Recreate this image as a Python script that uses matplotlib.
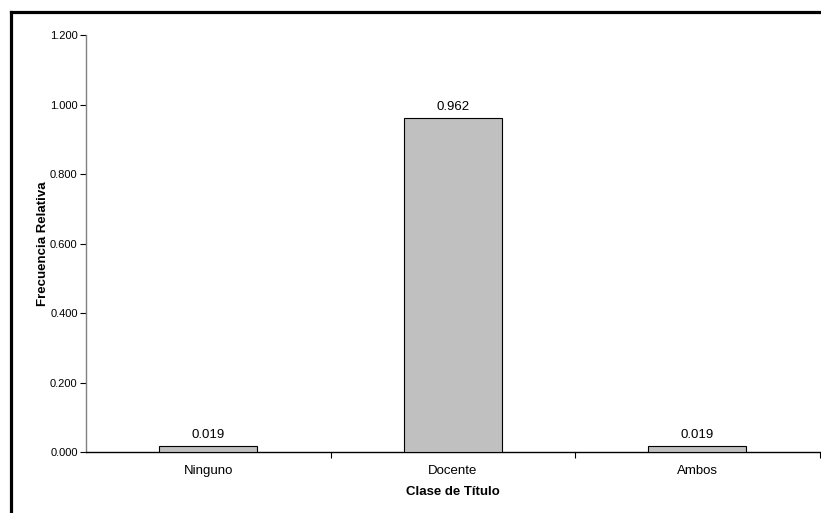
import matplotlib
matplotlib.use("Agg")
import matplotlib.pyplot as plt
from matplotlib.lines import Line2D

plt.rcParams['font.family'] = ['Liberation Sans', 'DejaVu Sans']

categories = ["Ninguno", "Docente", "Ambos"]
values = [0.019, 0.962, 0.019]
yticks = [0.0, 0.2, 0.4, 0.6, 0.8, 1.0, 1.2]

W, H = 821, 513
fig = plt.figure(figsize=(W / 100, H / 100), dpi=100)
ax = fig.add_axes([86 / W, 1 - 452.3 / H, (819.5 - 86) / W, (452.3 - 35) / H])

x = list(range(len(categories)))
ax.bar(x, values, width=0.4, color="#c0c0c0", edgecolor="black", linewidth=0.8, zorder=3)
for xi, v in zip(x, values):
    ax.annotate(f"{v:.3f}", (xi, v), xytext=(0, 3.5), textcoords="offset points",
                ha="center", va="bottom", fontsize=9.5, color="black")

ax.set_xlim(-0.5, len(categories) - 0.5)
ax.set_ylim(0, 1.2)
ax.set_yticks(yticks)
ax.set_yticklabels([f"{t:.3f}" for t in yticks], fontsize=8)
ax.set_xticks(x)
ax.set_xticklabels(categories, fontsize=9.5)
ax.set_xticks([0.5 + i for i in range(len(categories))], minor=True)
ax.tick_params(axis="x", which="major", length=0, pad=9.4)
ax.tick_params(axis="x", which="minor", length=4, width=0.8, color="black", direction="out")
ax.tick_params(axis="y", length=4, width=0.8, color="black", pad=2)

for s in ["top", "right"]:
    ax.spines[s].set_visible(False)
ax.spines["left"].set_color("#808080")
ax.spines["left"].set_linewidth(1.0)
ax.spines["bottom"].set_color("black")
ax.spines["bottom"].set_linewidth(1.0)

ax.set_xlabel("Clase de Título", fontsize=9.5, fontweight="bold", labelpad=6.5)
ax.set_ylabel("Frecuencia Relativa", fontsize=9.5, fontweight="bold", labelpad=1)

# outer frame (left and top)
fig.add_artist(Line2D([10.5 / W, 10.5 / W], [0, 1 - 11.5 / H], transform=fig.transFigure,
                      color="black", linewidth=2.3, solid_capstyle="projecting"))
fig.add_artist(Line2D([10.5 / W, 1], [1 - 11.5 / H, 1 - 11.5 / H], transform=fig.transFigure,
                      color="black", linewidth=2.3, solid_capstyle="projecting"))

fig.savefig("out.png", dpi=100)
